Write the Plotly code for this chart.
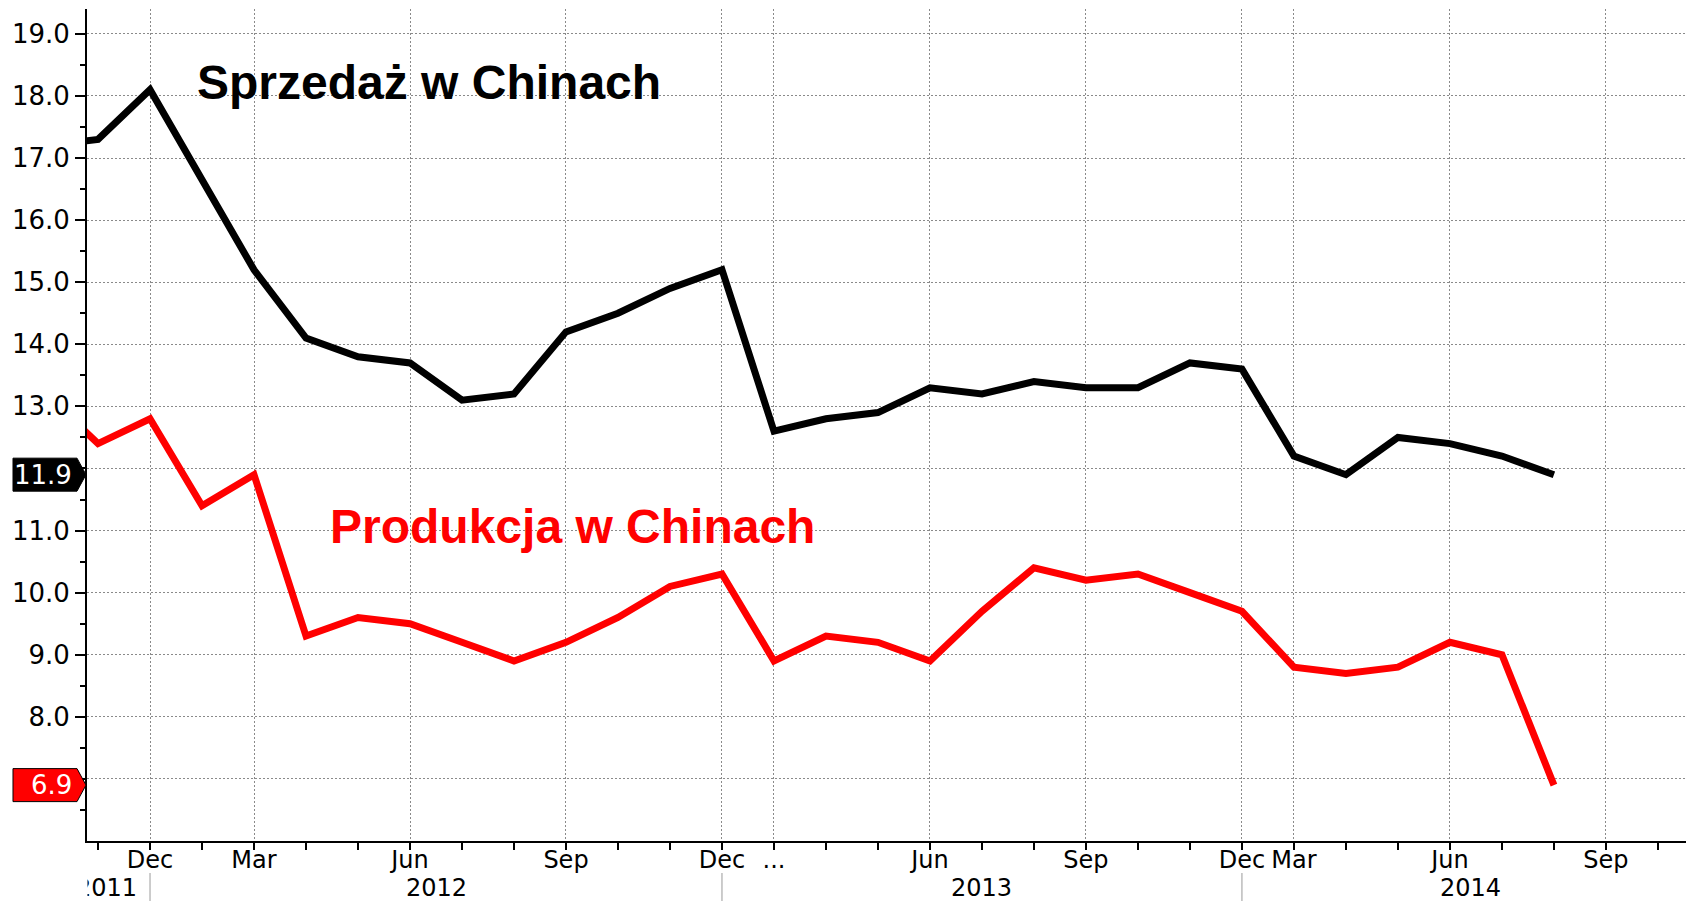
import plotly.graph_objects as go

# ---------------- data ----------------
periods = ["2011-10", "2011-11", "2011-12", "2012-02", "2012-03", "2012-04", "2012-05",
           "2012-06", "2012-07", "2012-08", "2012-09", "2012-10", "2012-11", "2012-12",
           "2013-03", "2013-04", "2013-05", "2013-06", "2013-07", "2013-08", "2013-09",
           "2013-10", "2013-11", "2013-12", "2014-03", "2014-04", "2014-05", "2014-06",
           "2014-07", "2014-08", "2014-09", "2014-10"]

sales = [17.2, 17.3, 18.1, None, 15.2, 14.1, 13.8, 13.7, 13.1, 13.2, 14.2, 14.5, 14.9, 15.2,
         12.6, 12.8, 12.9, 13.3, 13.2, 13.4, 13.3, 13.3, 13.7, 13.6,
         12.2, 11.9, 12.5, 12.4, 12.2, 11.9]
production = [13.2, 12.4, 12.8, 11.4, 11.9, 9.3, 9.6, 9.5, 9.2, 8.9, 9.2, 9.6, 10.1, 10.3,
              8.9, 9.3, 9.2, 8.9, 9.7, 10.4, 10.2, 10.3, 10.0, 9.7,
              8.8, 8.7, 8.8, 9.2, 9.0, 6.9]

sales_name = "Sprzedaż w Chinach"
production_name = "Produkcja w Chinach"

month_tick_periods = ["2011-12", "2012-03", "2012-06", "2012-09", "2012-12", "2013-03",
                      "2013-06", "2013-09", "2013-12", "2014-03", "2014-06", "2014-09"]
month_tick_labels = ["Dec", "Mar", "Jun", "Sep", "Dec", "...", "Jun", "Sep", "Dec", "Mar", "Jun", "Sep"]

year_labels = ["2011", "2012", "2013", "2014"]
year_label_pos = [1.17, 7.5, 18.0, 27.4]
year_boundaries = ["2011-12", "2012-12", "2013-12"]

y_tick_values = [7, 8, 9, 10, 11, 12, 13, 14, 15, 16, 17, 18, 19]

# ---------------- layout geometry ----------------
FIG_W, FIG_H = 1686, 901
L, R, T, B = 87, 0, 9, 60
W = FIG_W - L - R
H = FIG_H - T - B
Y_MIN, Y_MAX = 6.0, 19.4
X_MIN, X_MAX = 0.788, 31.54

idx = {p: i for i, p in enumerate(periods)}
x_sales = [idx[p] for p in periods[:len(sales)]]
x_prod = [idx[p] for p in periods[:len(production)]]

def px_to_paper_x(p):
    return (p - L) / W

def px_to_paper_y(p):
    return (FIG_H - B - p) / H

def val_to_paper_y(v):
    return (v - Y_MIN) / (Y_MAX - Y_MIN)

fig = go.Figure()
fig.add_trace(go.Scatter(x=x_sales, y=sales, mode="lines", name=sales_name,
                         line=dict(color="#000000", width=7), connectgaps=True,
                         showlegend=False))
fig.add_trace(go.Scatter(x=x_prod, y=production, mode="lines", name=production_name,
                         line=dict(color="#ff0000", width=7), connectgaps=True,
                         showlegend=False))

last_sales = sales[-1]
last_prod = production[-1]
badge_vals = [last_sales, last_prod]

y_tick_text = []
for v in y_tick_values:
    if any(abs(v - b) < 0.15 for b in badge_vals):
        y_tick_text.append("")
    else:
        y_tick_text.append(f"{v:.1f}")

minor_y = [v + 0.5 for v in range(6, 19)]
major_x = [idx[p] for p in month_tick_periods]
minor_x = [i for i in range(len(periods)) if i not in major_x]

font_x = dict(family="DejaVu Sans, Verdana, sans-serif", size=24, color="#000000")
font_y = dict(family="DejaVu Sans, Verdana, sans-serif", size=26, color="#000000")
grid_dash = "2px,2px"

fig.update_layout(
    width=FIG_W, height=FIG_H,
    margin=dict(l=L, r=R, t=T, b=B, pad=0),
    paper_bgcolor="#ffffff", plot_bgcolor="#ffffff",
    showlegend=False,
    xaxis=dict(
        range=[X_MIN, X_MAX], tickmode="array", tickvals=major_x, ticktext=month_tick_labels,
        showgrid=True, gridcolor="#8a8a8a", gridwidth=1, griddash=grid_dash,
        showline=True, linecolor="#000000", linewidth=2,
        ticks="outside", ticklen=7, tickwidth=1.5, tickcolor="#000000",
        tickfont=font_x, zeroline=False, ticklabelstandoff=-11,
        minor=dict(tickvals=minor_x, ticks="outside", ticklen=7, tickwidth=1.5,
                   tickcolor="#000000", showgrid=False),
    ),
    yaxis=dict(
        range=[Y_MIN, Y_MAX], tickmode="array", tickvals=y_tick_values, ticktext=y_tick_text,
        showgrid=True, gridcolor="#8a8a8a", gridwidth=1, griddash=grid_dash,
        showline=True, linecolor="#000000", linewidth=2,
        ticks="outside", ticklen=10, tickwidth=2, tickcolor="#000000",
        tickfont=font_y, zeroline=False,
        minor=dict(tickvals=minor_y, ticks="outside", ticklen=5, tickwidth=1.5,
                   tickcolor="#000000", showgrid=False),
    ),
)

shapes = []
annotations = []

# year separators
for p in year_boundaries:
    shapes.append(dict(type="line", xref="x", yref="paper",
                       x0=idx[p], x1=idx[p],
                       y0=px_to_paper_y(873), y1=px_to_paper_y(FIG_H),
                       line=dict(color="#9a9a9a", width=1)))

# year labels
for lab, pos in zip(year_labels, year_label_pos):
    annotations.append(dict(text=lab, x=pos, xref="x", y=px_to_paper_y(888), yref="paper",
                            xanchor="center", yanchor="middle", showarrow=False,
                            font=font_x))

# cover left of the plot for the clipped 2011 label
annotations.append(dict(text="\u00a0", x=px_to_paper_x(0), xref="paper", xanchor="left",
                        y=px_to_paper_y(887), yref="paper", yanchor="middle",
                        width=L - 1, height=30, bgcolor="#ffffff", borderpad=0,
                        showarrow=False))

# last-value badges
for v, fill, border in [(last_sales, "#000000", "#000000"), (last_prod, "#ff0000", "#000000")]:
    vy = T + (Y_MAX - v) * H / (Y_MAX - Y_MIN)
    hh = 16.5
    pts = [(13, vy - hh), (77, vy - hh), (86, vy), (77, vy + hh), (13, vy + hh)]
    path = "M " + " L ".join(f"{px_to_paper_x(a):.5f},{px_to_paper_y(b):.5f}" for a, b in pts) + " Z"
    shapes.append(dict(type="path", xref="paper", yref="paper", path=path,
                       fillcolor=fill, line=dict(color=border, width=1), layer="above"))
    annotations.append(dict(text=f"{v:.1f}", x=px_to_paper_x(74), xref="paper", xanchor="right",
                            y=val_to_paper_y(v), yref="paper", yanchor="middle",
                            showarrow=False,
                            font=dict(family="DejaVu Sans, Verdana, sans-serif", size=26,
                                      color="#ffffff")))

# series titles
annotations.append(dict(text="<b>" + sales_name + "</b>", x=7.36, y=18.22, xref="x", yref="y",
                        xanchor="center", yanchor="middle", showarrow=False,
                        font=dict(family="Liberation Sans, Arial, sans-serif", size=48,
                                  color="#000000")))
annotations.append(dict(text="<b>" + production_name + "</b>", x=10.125, y=11.06, xref="x", yref="y",
                        xanchor="center", yanchor="middle", showarrow=False,
                        font=dict(family="Liberation Sans, Arial, sans-serif", size=48,
                                  color="#ff0000")))

fig.update_layout(shapes=shapes, annotations=annotations)

fig.write_html("out.html", config={"displayModeBar": False},
               post_script="document.body.style.margin='0';document.body.style.overflow='hidden';")
